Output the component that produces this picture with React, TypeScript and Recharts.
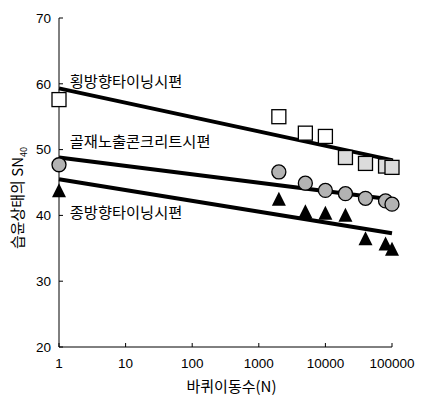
import { ComposedChart, Scatter, Line, XAxis, YAxis, ReferenceDot, Label } from 'recharts';

const cycles = [1, 2000, 5000, 10000, 20000, 40000, 80000, 100000];
const transverse = [57.6, 55.0, 52.5, 52.0, 48.8, 47.9, 47.5, 47.3];
const exposed = [47.7, 46.6, 44.9, 43.8, 43.3, 42.6, 42.2, 41.7];
const longitudinal = [43.6, 42.3, 40.4, 40.2, 39.9, 36.3, 35.5, 34.7];

const fitX = [1, 100000];
const transverseFit = [59.3, 48.4];
const exposedFit = [48.8, 42.4];
const longitudinalFit = [45.5, 37.3];

const xTicks = [1, 10, 100, 1000, 10000, 100000];
const yTicks = [20, 30, 40, 50, 60, 70];

const FONT = '"Liberation Sans", Arial, "Noto Sans CJK KR", sans-serif';
const KFONT = '"Noto Sans CJK KR", "Liberation Sans", sans-serif';

const toPoints = (ys: number[]) => cycles.map((n, i) => ({ n, v: ys[i] }));
const toFit = (ys: number[]) => fitX.map((n, i) => ({ n, v: ys[i] }));

const SquareShape = (p: any) => {
    const s = 14;
    return (
        <rect
            x={p.cx - s / 2}
            y={p.cy - s / 2}
            width={s}
            height={s}
            fill={p.index >= 4 ? '#dcdcdc' : '#fff'}
            stroke="#000"
            strokeWidth={1.3}
        />
    );
};

const CircleShape = (p: any) => <circle cx={p.cx} cy={p.cy} r={7} fill="#b3b3b3" stroke="#000" strokeWidth={1.3} />;

const TriangleShape = (p: any) => {
    const w = 14;
    const h = 14;
    return (
        <polygon
            points={`${p.cx},${p.cy - h * 0.6} ${p.cx - w / 2},${p.cy + h * 0.4} ${p.cx + w / 2},${p.cy + h * 0.4}`}
            fill="#000"
        />
    );
};

const XTick = (p: any) => (
    <g>
        <line x1={p.x} y1={p.y} x2={p.x} y2={p.y - 4} stroke="#000" />
        <text x={p.x} y={p.y + 16} dy="0.355em" textAnchor="middle" fontSize={13.5} fontFamily={FONT} fill="#000">
            {p.payload.value}
        </text>
    </g>
);

const YTick = (p: any) => (
    <g>
        <line x1={p.x} y1={p.y} x2={p.x + 4} y2={p.y} stroke="#000" />
        <text x={p.x - 8} y={p.y} dy="0.355em" textAnchor="end" fontSize={13.5} fontFamily={FONT} fill="#000">
            {p.payload.value}
        </text>
    </g>
);

const seriesLabel = (text: string) => (props: any) => {
    const { viewBox } = props;
    return (
        <text x={viewBox.x} y={viewBox.y} dy="0.355em" fontSize={15.3} fontFamily={KFONT} fill="#000">
            {text}
        </text>
    );
};

export default function App() {
    return (
        <div style={{ position: 'absolute', left: 0, top: 0, background: '#fff' }}>
            <ComposedChart width={423} height={397} margin={{ top: 18, right: 31, left: 0, bottom: 0 }}>
                <XAxis
                    dataKey="n"
                    type="number"
                    scale="log"
                    domain={[1, 100000]}
                    ticks={xTicks}
                    height={50}
                    tickSize={0}
                    tickMargin={0}
                    tickLine={false}
                    axisLine={{ stroke: '#000' }}
                    tick={<XTick />}
                >
                    <Label
                        content={(props: any) => {
                            const vb = props.viewBox;
                            return (
                                <text x={vb.x + vb.width / 2 + 6} y={387} dy="0.355em" textAnchor="middle" fontSize={15} fontFamily={KFONT} fill="#000">
                                    바퀴이동수(N)
                                </text>
                            );
                        }}
                    />
                </XAxis>
                <YAxis
                    dataKey="v"
                    type="number"
                    domain={[20, 70]}
                    ticks={yTicks}
                    width={59}
                    tickSize={0}
                    tickMargin={0}
                    tickLine={false}
                    axisLine={{ stroke: '#000' }}
                    tick={<YTick />}
                >
                    <Label
                        content={() => (
                            <text x={18} y={198} transform="rotate(-90 18 198)" dy="0.355em" textAnchor="middle" fontSize={15} fontFamily={KFONT} fill="#000">
                                습윤상태의 SN
                                <tspan fontSize={9} dy="4">40</tspan>
                            </text>
                        )}
                    />
                </YAxis>

                <Line data={toFit(transverseFit)} dataKey="v" stroke="#000" strokeWidth={4} dot={false} isAnimationActive={false} />
                <Line data={toFit(exposedFit)} dataKey="v" stroke="#000" strokeWidth={4} dot={false} isAnimationActive={false} />
                <Line data={toFit(longitudinalFit)} dataKey="v" stroke="#000" strokeWidth={4} dot={false} isAnimationActive={false} />

                <Scatter data={toPoints(transverse)} dataKey="v" shape={<SquareShape />} isAnimationActive={false} />
                <Scatter data={toPoints(exposed)} dataKey="v" shape={<CircleShape />} isAnimationActive={false} />
                <Scatter data={toPoints(longitudinal)} dataKey="v" shape={<TriangleShape />} isAnimationActive={false} />

                <ReferenceDot x={1.45} y={60.3} r={0} label={seriesLabel('횡방향타이닝시편')} />
                <ReferenceDot x={1.45} y={51.2} r={0} label={seriesLabel('골재노출콘크리트시편')} />
                <ReferenceDot x={1.45} y={40.5} r={0} label={seriesLabel('종방향타이닝시편')} />
            </ComposedChart>
        </div>
    );
}
